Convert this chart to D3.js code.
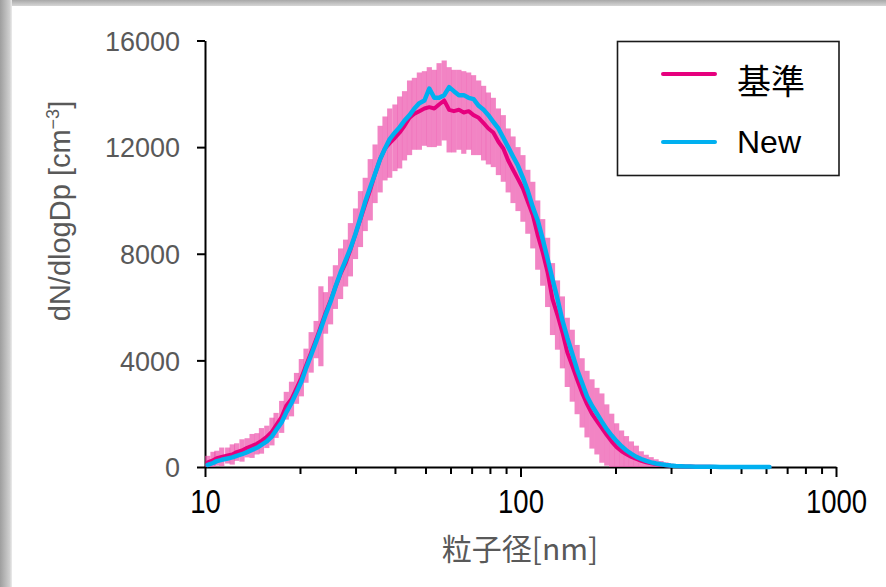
<!DOCTYPE html>
<html><head><meta charset="utf-8">
<script src="https://cdn.jsdelivr.net/npm/d3@7"></script>
<style>
html,body{margin:0;padding:0;background:#fff;}
svg{display:block;}
</style></head><body>
<svg id="chart" width="886" height="587"></svg>
<script>
// ---- data ----
const diameters = [10.2,10.6,10.9,11.3,11.8,12.2,12.6,13.1,13.6,14.1,
  14.6,15.1,15.7,16.3,16.8,17.5,18.1,18.8,19.5,20.2,
  20.9,21.7,22.5,23.3,24.1,25.0,25.9,26.9,27.9,28.9,
  30.0,31.1,32.2,33.4,34.6,35.9,37.2,38.5,40.0,41.4,
  42.9,44.5,46.1,47.8,49.6,51.4,53.3,55.2,57.3,59.4,
  61.5,63.8,66.1,68.5,71.0,73.7,76.4,79.1,82.0,85.1,
  88.2,91.4,94.7,98.2,101.8,105.5,109.4,113.4,117.6,121.9,
  126.3,131.0,135.8,140.7,145.9,151.2,156.8,162.5,168.5,174.7,
  181.1,187.7,194.6,201.7,209.1,216.7,224.7,232.9,241.4,250.3,
  259.5,269.0,278.8,289.0,299.6,310.6,322.0,333.8,346.0,358.7,
  371.8,385.4,399.5,414.2,429.4,445.1,461.4,478.3,495.8,514.0,
  532.8,552.3,572.5,593.5,615.3];

const baseMean = [170,250,330,380,430,470,560,620,720,790,
  870,980,1130,1330,1560,1880,2300,2550,2950,3350,
  3800,4300,4780,5280,5780,6250,6750,7250,7650,8150,
  8750,9300,9850,10400,11000,11550,11950,12150,12350,12550,
  12800,13100,13250,13350,13450,13500,13450,13600,13750,13400,
  13350,13400,13300,13350,13200,13100,12900,12700,12550,12200,
  11950,11500,11150,10800,10450,9950,9450,8700,8050,7300,
  6300,5700,5050,4300,3800,3280,2780,2360,1990,1720,
  1460,1200,950,740,590,480,380,300,230,180,
  140,110,85,65,48,36,27,20,15,11,
  8,6,5,4,3,3,2,2,1,1,
  1,1,0,0,0];

const baseSd = [250,320,280,350,300,380,330,420,360,450,
  400,480,420,520,470,600,520,650,580,700,
  640,760,700,1500,780,900,820,950,880,1000,
  950,1050,1000,1150,1100,1250,1200,1300,1250,1350,
  1300,1400,1350,1450,1400,1500,1450,1550,1500,1600,
  1550,1500,1550,1450,1500,1400,1400,1350,1300,1250,
  1250,1200,1250,1200,1250,1200,1250,1300,1250,1300,
  1350,1300,1350,1300,1350,1300,1300,1250,1300,1250,
  1300,1150,1050,900,780,680,580,500,360,280,
  230,180,140,110,80,60,45,35,25,20,
  15,12,10,8,6,5,4,3,3,2,
  2,2,1,1,1];

const newMean = [80,150,220,270,320,360,420,480,560,640,
  720,830,960,1150,1380,1680,2050,2400,2800,3200,
  3700,4200,4700,5200,5700,6200,6750,7300,7750,8200,
  8750,9350,9950,10500,11000,11550,11950,12300,12550,12750,
  13000,13200,13450,13650,13750,14200,13850,13850,13950,14250,
  14100,13950,13950,13850,13800,13550,13400,13200,12950,12700,
  12350,12000,11650,11300,10850,10350,9750,9250,8550,7800,
  7050,6300,5500,4850,4250,3650,3150,2650,2300,2000,
  1700,1420,1180,970,780,620,490,380,300,230,
  175,130,100,75,55,40,30,22,17,13,
  10,8,6,5,4,3,3,2,2,2,
  1,1,1,1,1];

const seriesNames = ["基準", "New"];
const seriesColors = ["#e6007e", "#00b0f0"];
const yTicks = [0, 4000, 8000, 12000, 16000];
const xMajorTicks = [10, 100, 1000];
const xMinorTicks = [20,30,40,50,60,70,80,90,200,300,400,500,600,700,800,900];
const xTitle = "粒子径[nm]";

// ---- drawing ----
const svg = d3.select("#chart");
const defs = svg.append("defs");
const gl = defs.append("linearGradient").attr("id","gLeft").attr("x1",0).attr("x2",1).attr("y1",0).attr("y2",0);
gl.append("stop").attr("offset",0).attr("stop-color","#9e9e9e");
gl.append("stop").attr("offset",0.8).attr("stop-color","#cfcfcf");
gl.append("stop").attr("offset",1).attr("stop-color","#ececec");
const gt = defs.append("linearGradient").attr("id","gTop").attr("x1",0).attr("x2",0).attr("y1",0).attr("y2",1);
gt.append("stop").attr("offset",0).attr("stop-color","#a8a8a8");
gt.append("stop").attr("offset",1).attr("stop-color","#d6d6d6");
svg.append("rect").attr("x",0).attr("y",0).attr("width",886).attr("height",6).attr("fill","url(#gTop)");
svg.append("rect").attr("x",0).attr("y",0).attr("width",12).attr("height",587).attr("fill","url(#gLeft)");

const x = d3.scaleLog().domain([10, 1000]).range([205, 836]);
const y = d3.scaleLinear().domain([0, 16000]).range([467, 40.5]);

// axes
const yAxis = d3.axisLeft(y).tickValues(yTicks).tickSize(8).tickSizeOuter(0).tickPadding(17).tickFormat(d3.format("d"));
const gy = svg.append("g").attr("transform","translate(205,0)").call(yAxis);
gy.select(".domain").attr("stroke","#000").attr("stroke-width",2);
gy.selectAll(".tick line").attr("stroke","#000").attr("stroke-width",2);
gy.selectAll(".tick text").attr("fill","#595959").attr("font-family","'Liberation Sans', Arial, sans-serif")
  .attr("font-size",27).attr("dy","0.36em");

const allX = xMajorTicks.concat(xMinorTicks).sort((a,b)=>a-b);
const xAxis = d3.axisBottom(x).tickValues(allX).tickSize(7).tickSizeOuter(0)
  .tickFormat(d => xMajorTicks.includes(d) ? String(d) : "");
const gx = svg.append("g").attr("transform","translate(0,467)").call(xAxis);
gx.select(".domain").attr("stroke","#000").attr("stroke-width",2);
gx.selectAll(".tick line").attr("stroke","#000").attr("stroke-width",2)
  .attr("y2", d => xMajorTicks.includes(d) ? 10 : 7);
gx.selectAll(".tick text").attr("fill","#000")
  .attr("font-family","'Liberation Sans', Arial, sans-serif")
  .attr("font-size",33).attr("y",34).attr("dy","0.36em")
  .attr("textLength", d => xMajorTicks.includes(d) ? String(d).length * 15.3 : null)
  .attr("lengthAdjust","spacingAndGlyphs");

// error bars
const pts = diameters.map((d,i)=>({d, m: baseMean[i], s: baseSd[i], n: newMean[i]}));
svg.append("g").selectAll("line").data(pts).join("line")
  .attr("x1", p => x(p.d)).attr("x2", p => x(p.d))
  .attr("y1", p => y(Math.max(0, p.m - p.s))).attr("y2", p => y(p.m + p.s))
  .attr("stroke","#ec4aa8").attr("stroke-opacity",0.68).attr("stroke-width",5.2);

// lines
const lineBase = d3.line().x(p => x(p.d)).y(p => y(p.m));
const lineNew = d3.line().x(p => x(p.d)).y(p => y(p.n));
svg.append("path").datum(pts).attr("d", lineBase).attr("fill","none")
  .attr("stroke", seriesColors[0]).attr("stroke-width",4).attr("stroke-linejoin","round").attr("stroke-linecap","round");
svg.append("path").datum(pts).attr("d", lineNew).attr("fill","none")
  .attr("stroke", seriesColors[1]).attr("stroke-width",4.5).attr("stroke-linejoin","round").attr("stroke-linecap","round");

// axis titles
const yt = svg.append("text").attr("transform","translate(70,211) rotate(-90)")
  .attr("text-anchor","middle").attr("fill","#595959")
  .attr("font-family","'Liberation Sans', Arial, sans-serif").attr("font-size",29);
yt.append("tspan").text("dN/dlogDp [cm");
yt.append("tspan").attr("font-size",18).attr("dy",-11).text("\u22123");
yt.append("tspan").attr("dy",11).text("]");

svg.append("text").attr("x",520).attr("y",547).attr("text-anchor","middle").attr("dominant-baseline","central")
  .attr("fill","#595959").attr("font-family","'Noto Sans CJK JP', sans-serif").attr("font-size",30).text(xTitle);

// legend
const lg = svg.append("g");
lg.append("rect").attr("x",617.5).attr("y",41.5).attr("width",221.5).attr("height",134)
  .attr("fill","#fff").attr("stroke","#1a1a1a").attr("stroke-width",1.6);
const legY = [74, 142];
seriesNames.forEach((name,i) => {
  lg.append("line").attr("x1",663).attr("x2",715).attr("y1",legY[i]).attr("y2",legY[i])
    .attr("stroke",seriesColors[i]).attr("stroke-width",4).attr("stroke-linecap","round");
  lg.append("text").attr("x",737).attr("y",legY[i] + (i===0 ? 5 : 0)).attr("dominant-baseline","central")
    .attr("fill","#000")
    .attr("font-family", i===0 ? "'Noto Sans CJK JP', sans-serif" : "'Liberation Sans', Arial, sans-serif")
    .attr("font-size", i===0 ? 34 : 32).text(name);
});
</script>
</body></html>
